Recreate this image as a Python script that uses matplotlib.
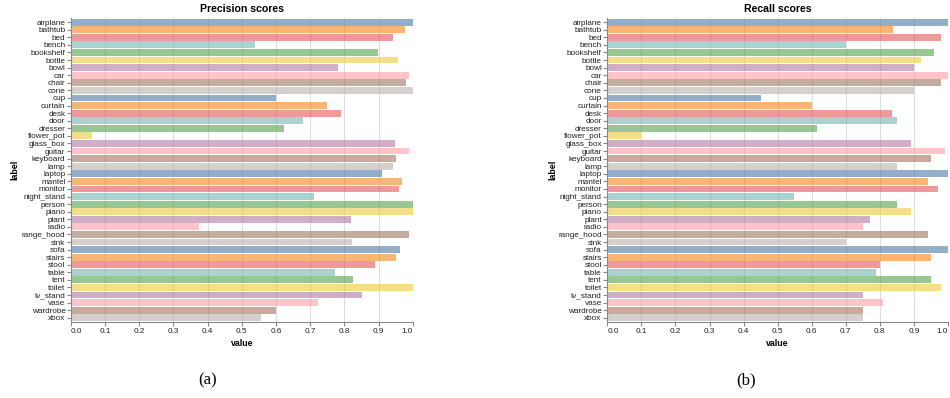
"""Per-class precision / recall bar charts for the ModelNet40 classifier."""

import matplotlib.pyplot as plt
import numpy as np

plt.rcParams['font.family'] = ['Liberation Sans', 'DejaVu Sans']

LABELS = [
    "airplane", "bathtub", "bed", "bench", "bookshelf", "bottle", "bowl", "car",
    "chair", "cone", "cup", "curtain", "desk", "door", "dresser", "flower_pot",
    "glass_box", "guitar", "keyboard", "lamp", "laptop", "mantel", "monitor",
    "night_stand", "person", "piano", "plant", "radio", "range_hood", "sink",
    "sofa", "stairs", "stool", "table", "tent", "toilet", "tv_stand", "vase",
    "wardrobe", "xbox",
]

PRECISION = [
    1.00, 0.977, 0.941, 0.539, 0.898, 0.958, 0.782, 0.989,
    0.980, 1.00, 0.600, 0.749, 0.790, 0.680, 0.622, 0.063,
    0.947, 0.989, 0.950, 0.943, 0.909, 0.968, 0.960,
    0.711, 1.00, 1.00, 0.819, 0.374, 0.989, 0.823,
    0.962, 0.950, 0.889, 0.774, 0.824, 1.00, 0.851, 0.723,
    0.600, 0.555,
]

RECALL = [
    1.00, 0.84, 0.98, 0.70, 0.96, 0.92, 0.90, 1.00,
    0.98, 0.90, 0.45, 0.60, 0.837, 0.85, 0.616, 0.10,
    0.89, 0.99, 0.95, 0.85, 1.00, 0.94, 0.97,
    0.547, 0.85, 0.89, 0.77, 0.75, 0.94, 0.70,
    1.00, 0.95, 0.80, 0.79, 0.95, 0.98, 0.75, 0.81,
    0.75, 0.75,
]

X_TICKS = [0.0, 0.1, 0.2, 0.3, 0.4, 0.5, 0.6, 0.7, 0.8, 0.9, 1.0]

# vega "tableau10" scheme, cycled over the classes
PALETTE = ["#4c78a8", "#f58518", "#e45756", "#72b7b2", "#54a24b",
           "#eeca3b", "#b279a2", "#ff9da6", "#9d755d", "#bab0ac"]


def draw_scores(ax, values, title):
    n = len(LABELS)
    y = np.arange(n)
    colors = [PALETTE[i % len(PALETTE)] for i in range(n)]

    ax.barh(y, values, height=0.9, color=colors, alpha=0.6, zorder=2)

    ax.set_xlim(0, 1.0)
    ax.set_ylim(n - 0.45, -0.55)
    ax.set_xticks(X_TICKS)
    ax.set_xticklabels([f"{t:.1f}" for t in X_TICKS])
    ax.set_yticks(y)
    ax.set_yticklabels(LABELS)

    ax.grid(axis='x', color='#dddddd', linewidth=0.8, zorder=0)
    ax.set_axisbelow(True)
    for side in ("top", "right"):
        ax.spines[side].set_visible(False)
    for side in ("left", "bottom"):
        ax.spines[side].set_color('#888888')
        ax.spines[side].set_linewidth(0.8)

    ax.tick_params(axis='both', labelsize=5.9, colors='#888888',
                   labelcolor='#222222', length=3, width=0.8, pad=1.5)
    ax.tick_params(axis='y', pad=1)

    # keep the end labels inside the plot width
    xlabels = ax.get_xticklabels()
    xlabels[0].set_horizontalalignment('left')
    xlabels[-1].set_horizontalalignment('right')

    ax.set_title(title, fontsize=7.6, fontweight='bold', pad=4)
    ax.set_xlabel("value", fontsize=6.4, fontweight='bold', labelpad=3)


def main():
    fig = plt.figure(figsize=(9.5, 3.98), dpi=100)

    ax_p = fig.add_axes([0.0747, 0.191, 0.3597, 0.7638])
    ax_r = fig.add_axes([0.6393, 0.191, 0.3586, 0.7638])

    draw_scores(ax_p, PRECISION, "Precision scores")
    draw_scores(ax_r, RECALL, "Recall scores")

    for x in (0.016, 0.582):
        fig.text(x, 0.573, "label", rotation=90, fontsize=6.4,
                 fontweight='bold', ha='center', va='center')

    fig.text(0.219, 0.043, "(a)", fontsize=12, family='Liberation Serif',
             ha='center', va='center')
    fig.text(0.785, 0.043, "(b)", fontsize=12, family='Liberation Serif',
             ha='center', va='center')

    fig.savefig("out.png", dpi=100)
    plt.close(fig)


if __name__ == "__main__":
    main()
